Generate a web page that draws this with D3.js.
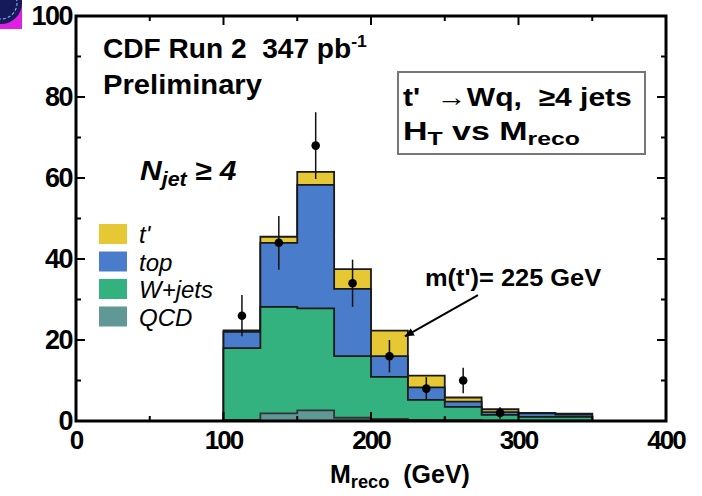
<!DOCTYPE html>
<html>
<head>
<meta charset="utf-8">
<script src="https://cdn.jsdelivr.net/npm/d3@7"></script>
<style>
  html, body { margin: 0; padding: 0; background: #fff; }
  svg { display: block; }
  text { font-family: "Liberation Sans", Arial, Helvetica, sans-serif; white-space: pre; }
</style>
</head>
<body>
<svg id="chart" width="702" height="496"></svg>
<script>
// Bin edges of the reconstructed mass histogram (GeV)
const binEdges = [100, 125, 150, 175, 200, 225, 250, 275, 300, 325, 350];

// Expected events per bin, by process
const qcdEvents    = [0.3, 1.9, 2.6, 0.8, 0.5, 0.3, 0.2, 0.1, 0.1, 0.1];
const wjetsEvents  = [17.7, 26.3, 25.2, 15.2, 10.4, 4.9, 3.3, 1.4, 0.9, 0.9];
const topEvents    = [4.0, 15.8, 30.5, 16.6, 5.1, 3.1, 1.3, 0.7, 0.9, 0.6];
const tprimeEvents = [0.4, 1.5, 3.2, 4.9, 6.3, 2.9, 1.0, 0.7, 0.1, 0.2];

// Observed events per bin
const observed = [26, 44, 68, 34, 16, 8, 10, 2, 0, 0];

// Axis ticks
const xTicks = [0, 100, 200, 300, 400];
const xMinorTicks = [50, 150, 250, 350];
const yTicks = [0, 20, 40, 60, 80, 100];
const yMinorTicks = [10, 30, 50, 70, 90];

// Legend entries (top to bottom)
const legendLabels = ["t'", "top", "W+jets", "QCD"];
const colors = { tprime: "#e6c834", top: "#4a7ccc", wjets: "#33b27f", qcd: "#5f9894" };
const legendColors = [colors.tprime, colors.top, colors.wjets, colors.qcd];

const svg = d3.select("#chart");
const x = d3.scaleLinear().domain([0, 400]).range([76, 666]);
const y = d3.scaleLinear().domain([0, 100]).range([421, 16]);

// Stretch a text element horizontally so it spans the given width
function fitWidth(sel, x0, width) {
  const w = sel.node().getBBox().width;
  if (w > 0) sel.attr("transform", `translate(${x0},0) scale(${width / w},1) translate(${-x0},0)`);
  return sel;
}

// Logo corner
svg.append("rect").attr("x", 0).attr("y", 0).attr("width", 22).attr("height", 29).attr("fill", "#e020e0");
svg.append("circle").attr("cx", 1).attr("cy", 3).attr("r", 21).attr("fill", "#141a5a");
svg.append("circle").attr("cx", 1).attr("cy", 3).attr("r", 16).attr("fill", "none")
  .attr("stroke", "#8aa6e0").attr("stroke-width", 1.2).attr("stroke-dasharray", "3,2");

// Cumulative stacks, drawn back to front
const n = binEdges.length - 1;
const cumQ = qcdEvents.slice();
const cumW = cumQ.map((v, i) => v + wjetsEvents[i]);
const cumT = cumW.map((v, i) => v + topEvents[i]);
const cumP = cumT.map((v, i) => v + tprimeEvents[i]);

const stepLine = d3.line().x(d => x(d[0])).y(d => y(d[1]));
function stepPoints(vals) {
  const pts = [[binEdges[0], 0]];
  for (let i = 0; i < n; i++) {
    pts.push([binEdges[i], vals[i]]);
    pts.push([binEdges[i + 1], vals[i]]);
  }
  pts.push([binEdges[n], 0]);
  return pts;
}
const layers = [
  { vals: cumP, fill: colors.tprime, stroke: "#1a1a1a" },
  { vals: cumT, fill: colors.top, stroke: "#1a1a1a" },
  { vals: cumW, fill: colors.wjets, stroke: "#1a1a1a" },
  { vals: cumQ, fill: colors.qcd, stroke: "#333" }
];
svg.append("g").selectAll("path").data(layers).join("path")
  .attr("d", d => stepLine(stepPoints(d.vals)) + "Z")
  .attr("fill", d => d.fill)
  .attr("stroke", d => d.stroke)
  .attr("stroke-width", 1.8)
  .attr("stroke-linejoin", "miter");

// Observed data with Poisson error bars
const centers = observed.map((v, i) => (binEdges[i] + binEdges[i + 1]) / 2);
const pts = observed.map((v, i) => ({ c: centers[i], v })).filter(d => d.v > 0);
const gData = svg.append("g");
gData.selectAll("line").data(pts).join("line")
  .attr("x1", d => x(d.c)).attr("x2", d => x(d.c))
  .attr("y1", d => y(d.v + Math.sqrt(d.v))).attr("y2", d => y(d.v - Math.sqrt(d.v)))
  .attr("stroke", "#111").attr("stroke-width", 1.5);
gData.selectAll("circle").data(pts).join("circle")
  .attr("cx", d => x(d.c)).attr("cy", d => y(d.v)).attr("r", 4.3).attr("fill", "#000");

// Frame
svg.append("rect").attr("x", x(0)).attr("y", y(100))
  .attr("width", x(400) - x(0)).attr("height", y(0) - y(100))
  .attr("fill", "none").attr("stroke", "#000").attr("stroke-width", 3);

// Inward ticks on all four sides
const tg = svg.append("g").attr("stroke", "#000").attr("stroke-width", 2);
function xt(vals, len) {
  vals.forEach(v => {
    tg.append("line").attr("x1", x(v)).attr("x2", x(v)).attr("y1", y(0)).attr("y2", y(0) - len);
    tg.append("line").attr("x1", x(v)).attr("x2", x(v)).attr("y1", y(100)).attr("y2", y(100) + len);
  });
}
function yt(vals, len) {
  vals.forEach(v => {
    tg.append("line").attr("y1", y(v)).attr("y2", y(v)).attr("x1", x(0)).attr("x2", x(0) + len);
    tg.append("line").attr("y1", y(v)).attr("y2", y(v)).attr("x1", x(400)).attr("x2", x(400) - len);
  });
}
xt(xTicks.slice(1, -1), 9); xt(xMinorTicks, 5);
yt(yTicks.slice(1, -1), 9); yt(yMinorTicks, 5);

// Tick labels
svg.append("g").selectAll("text").data(xTicks).join("text")
  .attr("x", d => x(d)).attr("y", 449).attr("text-anchor", "middle")
  .attr("font-size", 26).attr("font-weight", "bold").attr("letter-spacing", -2)
  .text(d => d);
svg.append("g").selectAll("text").data(yTicks).join("text")
  .attr("x", 72).attr("y", d => y(d) + 9).attr("text-anchor", "end")
  .attr("font-size", 27).attr("font-weight", "bold").attr("letter-spacing", -1.5)
  .text(d => d);

// Axis title
const xt1 = svg.append("text").attr("x", 330).attr("y", 483)
  .attr("font-size", 26).attr("font-weight", "bold");
xt1.append("tspan").text("M");
xt1.append("tspan").attr("font-size", 19).attr("dy", 5).text("reco");
xt1.append("tspan").attr("dy", -5).text("  (GeV)");
fitWidth(xt1, 330, 140);

// Experiment label
const h1 = svg.append("text").attr("x", 103).attr("y", 58).attr("font-size", 27).attr("font-weight", "bold");
h1.append("tspan").text("CDF Run 2  347 pb");
h1.append("tspan").attr("font-size", 17).attr("dy", -11).text("-1");
fitWidth(h1, 103, 264);
const h1b = svg.append("text").attr("x", 103).attr("y", 94).attr("font-size", 27).attr("font-weight", "bold").text("Preliminary");
fitWidth(h1b, 103, 159);

// Channel box
svg.append("rect").attr("x", 398).attr("y", 72).attr("width", 247).attr("height", 82)
  .attr("fill", "#fff").attr("stroke", "#777").attr("stroke-width", 2);
const b1 = svg.append("text").attr("x", 403).attr("y", 106).attr("font-size", 26).attr("font-weight", "bold")
  .text("t'  \u2192Wq,  \u22654 jets");
fitWidth(b1, 403, 229);
const h2 = svg.append("text").attr("x", 403).attr("y", 140).attr("font-size", 26).attr("font-weight", "bold");
h2.append("tspan").text("H");
h2.append("tspan").attr("font-size", 19).attr("dy", 5).text("T");
h2.append("tspan").attr("dy", -5).text(" vs M");
h2.append("tspan").attr("font-size", 19).attr("dy", 5).text("reco");
fitWidth(h2, 403, 177);

// Jet multiplicity label
const nj = svg.append("text").attr("x", 140).attr("y", 180).attr("font-size", 28)
  .attr("font-weight", "bold").attr("font-style", "italic");
nj.append("tspan").text("N");
nj.append("tspan").attr("font-size", 20).attr("dy", 6).text("jet");
nj.append("tspan").attr("dy", -6).text(" \u2265 4");
fitWidth(nj, 140, 97);

// Legend
const lg = svg.append("g");
legendLabels.forEach((lab, i) => {
  const yy = 224 + i * 27.5;
  lg.append("rect").attr("x", 99).attr("y", yy).attr("width", 28).attr("height", 20).attr("fill", legendColors[i]);
  lg.append("text").attr("x", 139).attr("y", yy + 19).attr("font-size", 24)
    .attr("font-style", "italic").text(lab);
});

// Signal mass annotation
const annFrom = [272.5, 31.1], annTo = [223, 20.9];
const ax1 = x(annFrom[0]), ay1 = y(annFrom[1]), ax2 = x(annTo[0]), ay2 = y(annTo[1]);
svg.append("line").attr("x1", ax1).attr("y1", ay1).attr("x2", ax2).attr("y2", ay2)
  .attr("stroke", "#000").attr("stroke-width", 2);
const ang = Math.atan2(ay2 - ay1, ax2 - ax1);
const hl = 9, hw = 4;
const tri = [
  [ax2, ay2],
  [ax2 - hl * Math.cos(ang) + hw * Math.sin(ang), ay2 - hl * Math.sin(ang) - hw * Math.cos(ang)],
  [ax2 - hl * Math.cos(ang) - hw * Math.sin(ang), ay2 - hl * Math.sin(ang) + hw * Math.cos(ang)]
];
svg.append("path").attr("d", "M" + tri.map(p => p.join(",")).join("L") + "Z").attr("fill", "#000");
const ann = svg.append("text").attr("x", 425).attr("y", 286).attr("font-size", 23).attr("font-weight", "bold")
  .text("m(t')= 225 GeV");
fitWidth(ann, 425, 177);
</script>
</body>
</html>
